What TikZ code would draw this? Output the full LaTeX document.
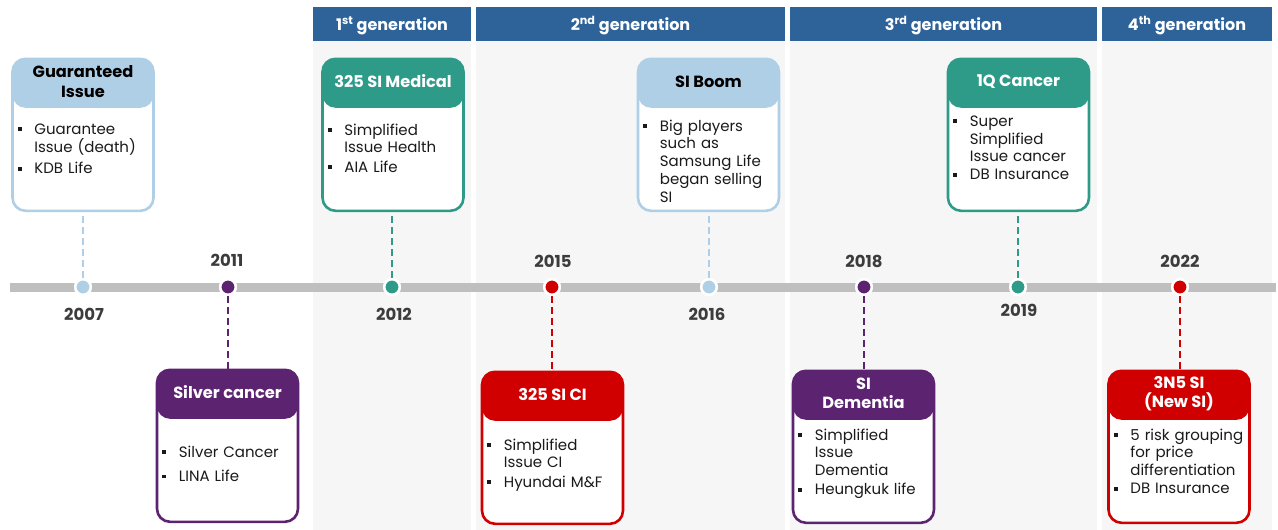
\documentclass[tikz,border=0pt]{standalone}
\usepackage{fontspec}
\setmainfont{Poppins}
\definecolor{genblue}{HTML}{2E6399}
\definecolor{panelgray}{HTML}{F6F6F6}
\definecolor{axisgray}{HTML}{BFBFBF}
\definecolor{yeargray}{HTML}{3C3C3C}
\definecolor{skyblue}{HTML}{AFCFE6}
\definecolor{tealc}{HTML}{2E9B89}
\definecolor{plum}{HTML}{5B2370}
\definecolor{crimson}{HTML}{D00000}
\definecolor{inkc}{HTML}{1A1A1A}
% one bullet line of a card body
\newcommand\bitem[1]{\noindent\makebox[16.5pt][l]{\rule[0.2em]{3.8pt}{3.8pt}}\parbox[t]{122pt}{#1}\par}
\newcommand\igap{\vspace{6.5pt}}
% generation banner label, set a little low in its band
\newcommand\genlabel[2]{\raisebox{-2pt}{#1\textsuperscript{#2} generation}}
\begin{document}
\begin{tikzpicture}[x=1pt,y=-1pt,
  genhead/.style={fill=genblue,text=white,font=\bfseries\fontsize{16}{19}\selectfont,
    inner sep=0,minimum height=34pt,text height=9.5pt,text depth=0pt},
  card/.style={draw=#1,fill=white,line width=2.6pt,rounded corners=13pt,
    minimum width=141pt,minimum height=152pt,inner sep=0,anchor=north,
    path picture={\fill[#1] (path picture bounding box.north west)
      rectangle ([yshift=-49pt]path picture bounding box.north east);}},
  cardhead/.style={text=#1,font=\bfseries\fontsize{16.2}{19.5}\selectfont,align=center,inner sep=0},
  cardbody/.style={text=inkc,font=\fontsize{15}{17.8}\selectfont,text width=138pt,
    align=left,inner sep=0,anchor=north west},
  dot/.style={circle,fill=#1,draw=white,line width=2.4pt,minimum size=15.5pt,inner sep=0},
  year/.style={text=yeargray,font=\bfseries\fontsize{16.5}{19}\selectfont,inner sep=0},
  link/.style={draw=#1,line width=2.4pt,dash pattern=on 7pt off 4pt}
]
\useasboundingbox (0,0) rectangle (1278,530);
\fill[white] (0,0) rectangle (1278,530);

% generation bands
\fill[panelgray] (313,41) rectangle (471,530);
\fill[panelgray] (476,41) rectangle (785,530);
\fill[panelgray] (790,41) rectangle (1097,530);
\fill[panelgray] (1102,41) rectangle (1272,530);
\node[genhead,minimum width=158pt] (g1) at (392,24) {\genlabel{1}{st}};
\node[genhead,minimum width=309pt] (g2) at (630.5,24) {\genlabel{2}{nd}};
\node[genhead,minimum width=307pt] (g3) at (943.5,24) {\genlabel{3}{rd}};
\node[genhead,minimum width=170pt] (g4) at (1187,24) {\genlabel{4}{th}};

% time axis
\coordinate (ax0) at (10,287);
\coordinate (ax1) at (1276,287);
\draw[axisgray,line width=9pt] (ax0) -- (ax1);

% milestones on the axis
\node[dot=skyblue] (d07) at (83,287) {};
\node[dot=plum]    (d11) at (228,287) {};
\node[dot=tealc]   (d12) at (392,287) {};
\node[dot=crimson] (d15) at (552,287) {};
\node[dot=skyblue] (d16) at (709,287) {};
\node[dot=plum]    (d18) at (864,287) {};
\node[dot=tealc]   (d19) at (1018,287) {};
\node[dot=crimson] (d22) at (1180,287) {};

\node[year] (y07) at (84,314) {2007};
\node[year] (y11) at (227,260) {2011};
\node[year] (y12) at (394,314) {2012};
\node[year] (y15) at (553,261) {2015};
\node[year] (y16) at (707,314) {2016};
\node[year] (y18) at (864,261) {2018};
\node[year] (y19) at (1019,310) {2019};
\node[year] (y22) at (1180,261) {2022};

% cards above the axis
\node[card=skyblue] (gi) at (83,57.5) {};
\node[cardhead=black] at ([yshift=-24pt]gi.north) {Guaranteed\\Issue};
\node[cardbody] at ([xshift=6.5pt,yshift=-66pt]gi.north west)
  {\bitem{Guarantee\\Issue (death)}\igap\bitem{KDB Life}};

\node[card=tealc] (med) at (393,57.5) {};
\node[cardhead=white] at ([yshift=-24pt]med.north) {325 SI Medical};
\node[cardbody] at ([xshift=6.5pt,yshift=-66pt]med.north west)
  {\bitem{Simplified\\Issue Health}\igap\bitem{AIA Life}};

\node[card=skyblue] (boom) at (708.5,57.5) {};
\node[cardhead=black] at ([yshift=-24pt]boom.north) {SI Boom};
\node[cardbody] at ([xshift=6.5pt,yshift=-62pt]boom.north west)
  {\bitem{Big players\\such as\\Samsung Life\\began selling\\SI}};

\node[card=tealc] (q1) at (1018.5,57.5) {};
\node[cardhead=white] at ([yshift=-24pt]q1.north) {1Q Cancer};
\node[cardbody] at ([xshift=6.5pt,yshift=-58pt]q1.north west)
  {\bitem{Super\\Simplified\\Issue cancer}\igap\bitem{DB Insurance}};

% cards below the axis
\node[card=plum] (silver) at (227.5,368.5) {};
\node[cardhead=white] at ([yshift=-24pt]silver.north) {Silver cancer};
\node[cardbody] at ([xshift=6.5pt,yshift=-77pt]silver.north west)
  {\bitem{Silver Cancer}\igap\bitem{LINA Life}};

\node[card=crimson] (ci) at (552.5,370.5) {};
\node[cardhead=white] at ([yshift=-24pt]ci.north) {325 SI CI};
\node[cardbody] at ([xshift=6.5pt,yshift=-68pt]ci.north west)
  {\bitem{Simplified\\Issue CI}\igap\bitem{Hyundai M\&F}};

\node[card=plum] (dem) at (863.5,369.5) {};
\node[cardhead=white] at ([yshift=-24pt]dem.north) {SI\\Dementia};
\node[cardbody] at ([xshift=6.5pt,yshift=-59pt]dem.north west)
  {\bitem{Simplified\\Issue\\Dementia}\igap\bitem{Heungkuk life}};

\node[card=crimson] (n5) at (1179,369.5) {};
\node[cardhead=white] at ([yshift=-24pt]n5.north) {3N5 SI\\(New SI)};
\node[cardbody] at ([xshift=6.5pt,yshift=-59pt]n5.north west)
  {\bitem{5 risk grouping\\for price\\differentiation}\igap\bitem{DB Insurance}};

% dashed leaders from milestones to cards
\draw[link=skyblue] (d07) -- (d07 |- gi.south);
\draw[link=tealc]   (d12) -- (d12 |- med.south);
\draw[link=skyblue] (d16) -- (d16 |- boom.south);
\draw[link=tealc]   (d19) -- (d19 |- q1.south);
\draw[link=plum]    (d11) -- (d11 |- silver.north);
\draw[link=crimson] (d15) -- (d15 |- ci.north);
\draw[link=plum]    (d18) -- (d18 |- dem.north);
\draw[link=crimson] (d22) -- (d22 |- n5.north);
% redraw milestone dots over the leaders
\foreach \d/\c in {d07/skyblue,d11/plum,d12/tealc,d15/crimson,d16/skyblue,d18/plum,d19/tealc,d22/crimson}
  \node[dot=\c] at (\d) {};
\end{tikzpicture}
\end{document}
